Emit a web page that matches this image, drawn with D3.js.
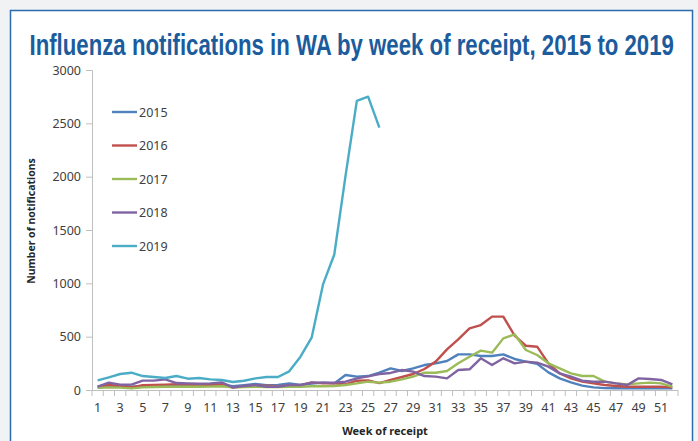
<!DOCTYPE html>
<html>
<head>
<meta charset="utf-8">
<script src="https://cdn.jsdelivr.net/npm/d3@7"></script>
<style>
  html, body { margin: 0; padding: 0; background: #f1f2f4; }
  svg { display: block; }
</style>
</head>
<body>
<svg id="chart" width="698" height="441"></svg>
<script>
// Wochen 1-52
const weeks = d3.range(1, 53);
const years = ["2015", "2016", "2017", "2018", "2019"];
const yTicks = [0, 500, 1000, 1500, 2000, 2500, 3000];

const v2015 = [22, 35, 40, 30, 35, 38, 40, 45, 42, 40, 45, 50, 35, 45, 56, 45, 47, 62, 47, 60, 69, 62, 141, 125, 131, 162,
  203, 178, 203, 234, 250, 272, 334, 334, 319, 319, 334, 291, 266, 245, 165, 109, 72, 41, 25, 18, 16, 15, 15, 15, 15, 15];
const v2016 = [31, 47, 37, 25, 45, 47, 50, 55, 50, 45, 50, 55, 22, 35, 40, 40, 35, 40, 45, 72, 62, 62, 53, 87, 90, 65,
  94, 122, 150, 197, 266, 381, 475, 578, 609, 688, 688, 510, 415, 406, 250, 156, 109, 78, 62, 47, 37, 31, 31, 31, 31, 25];
const v2017 = [20, 25, 22, 15, 25, 28, 30, 30, 32, 30, 32, 35, 25, 28, 30, 28, 28, 30, 31, 35, 35, 38, 47, 62, 78, 69,
  78, 100, 125, 162, 162, 178, 250, 312, 369, 350, 484, 522, 375, 328, 250, 203, 156, 131, 131, 78, 62, 53, 62, 69, 62, 31];
const v2018 = [31, 69, 50, 50, 88, 88, 100, 65, 62, 58, 62, 72, 25, 37, 47, 31, 31, 47, 47, 69, 69, 69, 78, 109, 128, 150,
  160, 187, 172, 131, 125, 109, 187, 194, 297, 234, 297, 250, 266, 256, 219, 156, 125, 87, 78, 78, 62, 47, 109, 103, 94, 53];
const v2019 = [90, 119, 150, 162, 131, 122, 112, 131, 106, 112, 100, 94, 75, 87, 109, 122, 122, 175, 312, 494, 990, 1270,
  2010, 2710, 2750, 2460];

const seriesValues = [v2015, v2016, v2017, v2018, v2019];
const colors = ["#4f81bd", "#c0504d", "#9bbb59", "#8064a2", "#4bacc6"];

const svg = d3.select("#chart");
const font = "'Noto Sans', 'DejaVu Sans', sans-serif";

// Rahmen
svg.append("rect")
  .attr("x", 10.5).attr("y", 10.5)
  .attr("width", 682).attr("height", 450)
  .attr("fill", "#fff")
  .attr("stroke", "#2b6cb0")
  .attr("stroke-width", 1.5);

// Titel (schmal gestaucht wie Arial Narrow)
const title = svg.append("text")
  .attr("x", 0).attr("y", 0)
  .style("font-family", "'Liberation Sans Narrow', 'Liberation Sans', sans-serif")
  .style("font-weight", "bold")
  .style("font-size", "30px")
  .attr("fill", "#1c5c9c")
  .text("Influenza notifications in WA by week of receipt, 2015 to 2019");
const tw = title.node().getComputedTextLength();
const sx = 645 / tw;
title.attr("transform", `translate(${352 - 645 / 2},55) scale(${sx},1)`);

// Skalen
const x = d3.scaleBand().domain(weeks).range([92, 678]).padding(0);
const xc = w => x(w) + x.bandwidth() / 2;
const y = d3.scaleLinear().domain([0, 3000]).range([390, 70]);

// Y-Achse
const yAxis = svg.append("g")
  .attr("transform", "translate(92,0)")
  .call(d3.axisLeft(y).tickValues(yTicks).tickFormat(d3.format("d")).tickSize(6).tickPadding(5));
yAxis.select(".domain").attr("stroke", "#bfbfbf");
yAxis.selectAll(".tick line").attr("stroke", "#bfbfbf");
yAxis.selectAll(".tick text")
  .style("font-family", font).style("font-size", "12.5px").attr("fill", "#404040");

// X-Achse: Striche an den Kategoriegrenzen
const xg = svg.append("g");
xg.append("line")
  .attr("x1", 92).attr("x2", 678).attr("y1", 390.5).attr("y2", 390.5)
  .attr("stroke", "#bfbfbf");
xg.selectAll("line.tk")
  .data(weeks.concat([53]))
  .enter().append("line")
  .attr("class", "tk")
  .attr("x1", d => d === 53 ? x(52) + x.bandwidth() : x(d))
  .attr("x2", d => d === 53 ? x(52) + x.bandwidth() : x(d))
  .attr("y1", 390).attr("y2", 396)
  .attr("stroke", "#bfbfbf");

const xAxis = svg.append("g")
  .attr("transform", "translate(0,390)")
  .call(d3.axisBottom(x).tickValues(weeks.filter(w => w % 2 === 1)).tickSize(0).tickPadding(13));
xAxis.select(".domain").remove();
xAxis.selectAll(".tick text")
  .style("font-family", font).style("font-size", "12.5px").attr("fill", "#404040");

// Achsentitel
svg.append("text")
  .attr("x", 385).attr("y", 435)
  .attr("text-anchor", "middle")
  .style("font-family", font).style("font-weight", "bold").style("font-size", "11px")
  .attr("fill", "#262626")
  .text("Week of receipt");

svg.append("text")
  .attr("transform", "translate(35,221) rotate(-90)")
  .attr("text-anchor", "middle")
  .style("font-family", font).style("font-weight", "bold").style("font-size", "10.5px")
  .attr("fill", "#262626")
  .text("Number of notifications");

// Linien
const line = d3.line()
  .x((d, i) => xc(weeks[i]))
  .y(d => y(d));

svg.selectAll("path.series")
  .data(seriesValues)
  .enter().append("path")
  .attr("class", "series")
  .attr("d", d => line(d))
  .attr("fill", "none")
  .attr("stroke", (d, i) => colors[i])
  .attr("stroke-width", 2.4)
  .attr("stroke-linejoin", "round");

// Legende
const lg = svg.append("g");
const legY = d3.scalePoint().domain(years).range([112, 246]);
years.forEach((yr, i) => {
  lg.append("line")
    .attr("x1", 112).attr("x2", 137)
    .attr("y1", legY(yr)).attr("y2", legY(yr))
    .attr("stroke", colors[i]).attr("stroke-width", 2.4);
  lg.append("text")
    .attr("x", 139).attr("y", legY(yr) + 4.5)
    .style("font-family", font).style("font-size", "12.5px")
    .attr("fill", "#404040")
    .text(yr);
});
</script>
</body>
</html>
